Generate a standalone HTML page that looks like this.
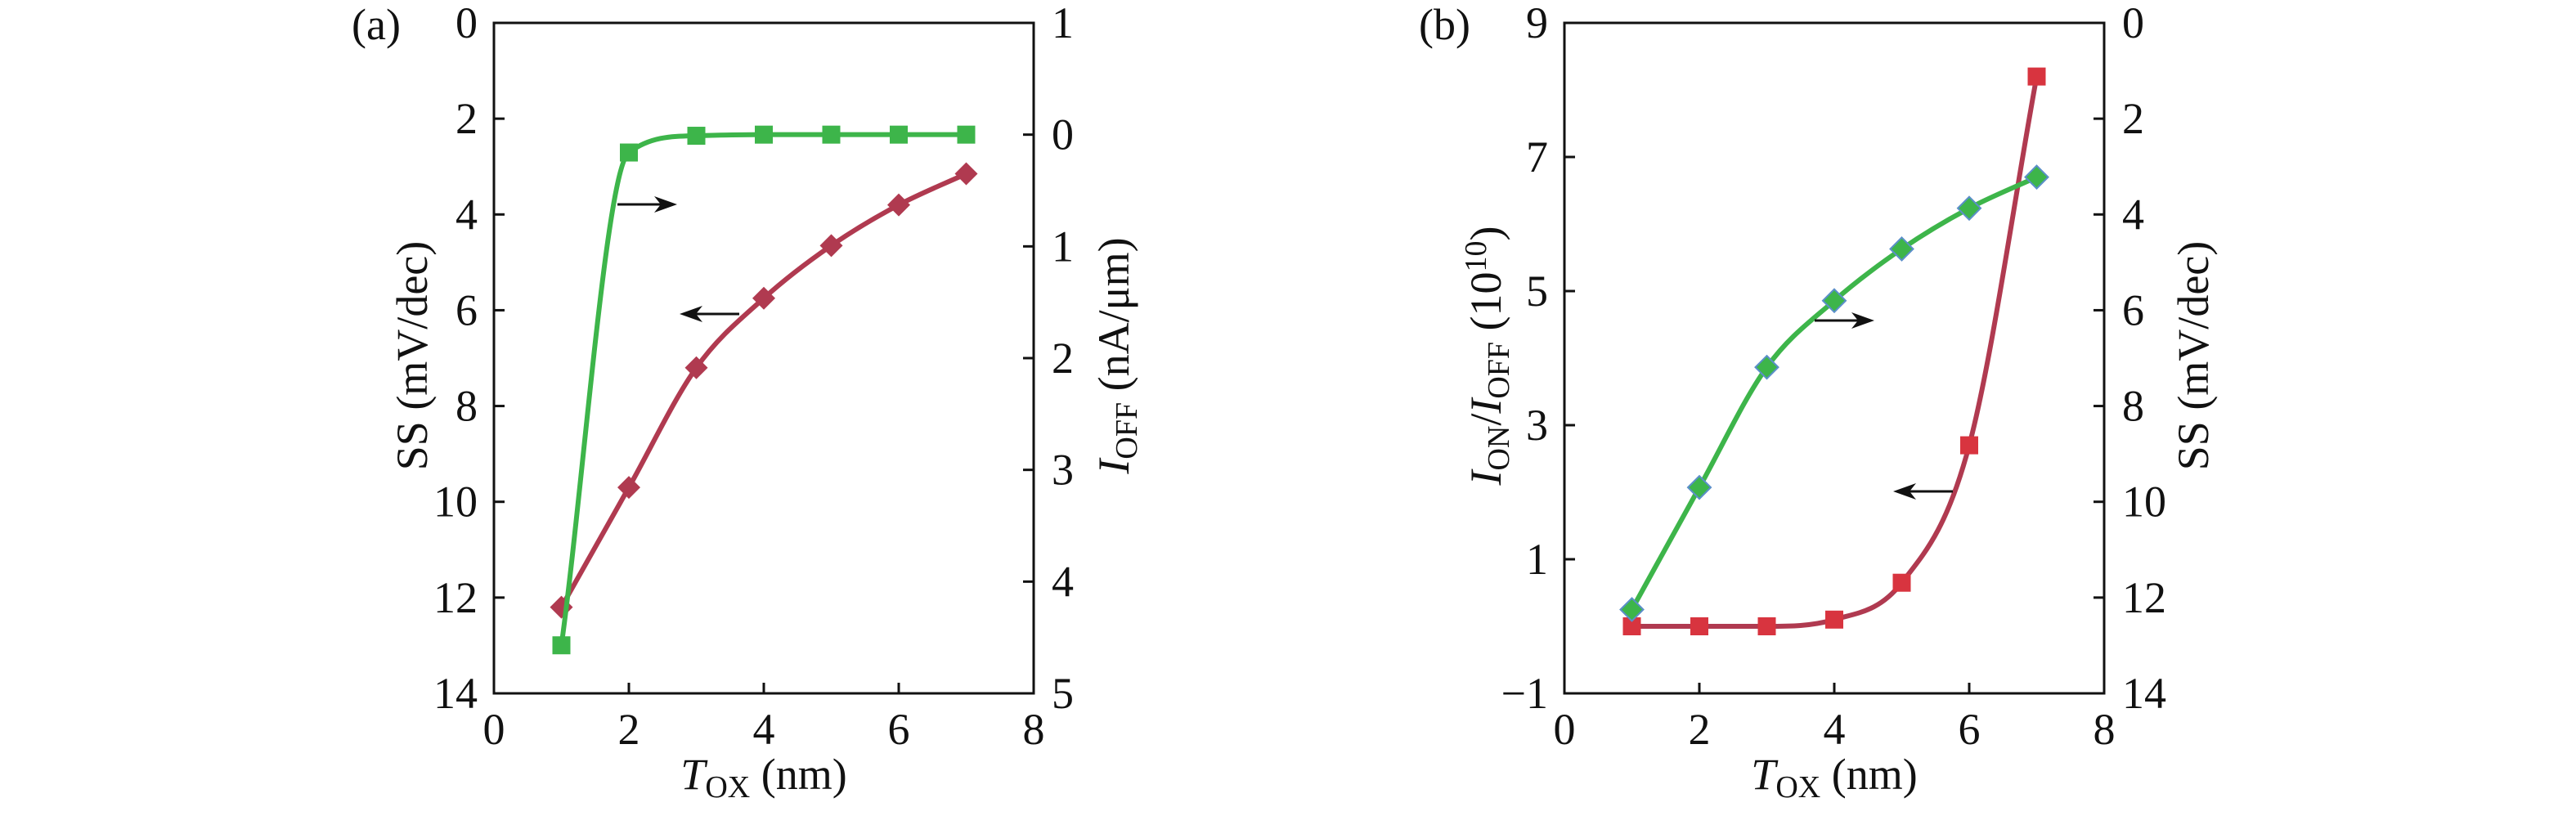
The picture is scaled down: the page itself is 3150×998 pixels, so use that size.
<!DOCTYPE html>
<html><head><meta charset="utf-8"><style>
html,body{margin:0;padding:0;background:#fff;}
svg{display:block;font-family:"Liberation Serif",serif;}
</style></head><body>
<svg id="fig" width="3150" height="998" viewBox="0 0 3150 998" xmlns="http://www.w3.org/2000/svg"></svg>
<script>
// ---- data ----
const tox = [1,2,3,4,5,6,7];
const aSS = [12.2,9.7,7.2,5.75,4.65,3.8,3.15];
const aIoff = [4.57,0.16,0.01,0,0,0,0];
const bRatio = [0.0,0.0,0.0,0.1,0.65,2.7,8.2];
const bSS = [12.25,9.7,7.19,5.8,4.72,3.87,3.22];
const xTicks = [0,2,4,6,8];
const aLeftTicks = [0,2,4,6,8,10,12,14];
const aRightTicks = [-1,0,1,2,3,4,5];
const aRightLabels = ["1","0","1","2","3","4","5"];
const bLeftTicks = [9,7,5,3,1,-1];
const bLeftLabels = ["9","7","5","3","1","\u22121"];
const bRightTicks = [0,2,4,6,8,10,12,14];

const NS="http://www.w3.org/2000/svg";
const svg=document.getElementById('fig');
function mk(tag,attrs,parent){const e=document.createElementNS(NS,tag);for(const k in attrs)e.setAttribute(k,attrs[k]);(parent||svg).appendChild(e);return e;}
const GREEN="#3db54a", RED="#b03a50", RED2="#d8343f";
const TOP=28, BOT=848;

function monotone(pts){
  const n=pts.length,d=[],m=[];
  for(let i=0;i<n-1;i++)d.push((pts[i+1][1]-pts[i][1])/(pts[i+1][0]-pts[i][0]));
  m[0]=d[0];m[n-1]=d[n-2];
  for(let i=1;i<n-1;i++){m[i]=(d[i-1]*d[i]<=0)?0:(d[i-1]+d[i])/2;}
  for(let i=0;i<n-1;i++){
    if(d[i]===0){m[i]=0;m[i+1]=0;continue;}
    const a=m[i]/d[i],b=m[i+1]/d[i],s=a*a+b*b;
    if(s>9){const t=3/Math.sqrt(s);m[i]=t*a*d[i];m[i+1]=t*b*d[i];}
  }
  let p=`M${pts[0][0]},${pts[0][1]}`;
  for(let i=0;i<n-1;i++){
    const h=(pts[i+1][0]-pts[i][0])/3;
    p+=` C${pts[i][0]+h},${pts[i][1]+m[i]*h} ${pts[i+1][0]-h},${pts[i+1][1]-m[i+1]*h} ${pts[i+1][0]},${pts[i+1][1]}`;
  }
  return p;
}

function panel(cfg){
  const g=mk('g',{});
  
  
  const L=cfg.left,R=cfg.right;
  const xs=v=>L+(v-0)/8*(R-L);
  const yl=v=>TOP+(v-cfg.lmin)/(cfg.lmax-cfg.lmin)*(BOT-TOP);
  const yr=v=>TOP+(v-cfg.rmin)/(cfg.rmax-cfg.rmin)*(BOT-TOP);
  const frame=mk('rect',{x:L,y:TOP,width:R-L,height:BOT-TOP,fill:'none',stroke:'#111','stroke-width':3},g);
  
  
  xTicks.forEach(v=>{
    const x=xs(v);
    if(v>0&&v<8){const t=mk('line',{x1:x,y1:BOT,x2:x,y2:BOT-13,stroke:'#111','stroke-width':3},g);
      }
    const tx=mk('text',{x:x,y:910,'font-size':54,'text-anchor':'middle',fill:'#111'},g);
    tx.textContent=v;
    
    
  });
  cfg.lt.forEach((v,i)=>{
    const y=yl(v);
    if(y>TOP+2&&y<BOT-2){const t=mk('line',{x1:L,y1:y,x2:L+13,y2:y,stroke:'#111','stroke-width':3},g);
      }
    const tx=mk('text',{x:L-20,y:y+18,'font-size':54,'text-anchor':'end',fill:'#111'},g);
    tx.textContent=cfg.ll[i];
    
    
  });
  cfg.rt.forEach((v,i)=>{
    const y=yr(v);
    if(y>TOP+2&&y<BOT-2){const t=mk('line',{x1:R,y1:y,x2:R-13,y2:y,stroke:'#111','stroke-width':3},g);
      }
    const tx=mk('text',{x:R+22,y:y+18,'font-size':54,'text-anchor':'start',fill:'#111'},g);
    tx.textContent=cfg.rl[i];
    
    
  });
  const xt=mk('text',{x:(L+R)/2,y:965,'font-size':54,'text-anchor':'middle',fill:'#111'},g);
  xt.innerHTML='<tspan font-style="italic">T</tspan><tspan font-size="38" dy="10">OX</tspan><tspan dy="-10"> (nm)</tspan>';
  
  
  const lt=mk('text',{transform:`translate(${cfg.ltx},435) rotate(-90)`,'font-size':54,'text-anchor':'middle',fill:'#111'},g);
  lt.innerHTML=cfg.lTitle;
  
  
  const rt=mk('text',{transform:`translate(${cfg.rtx},435) rotate(-90)`,'font-size':54,'text-anchor':'middle',fill:'#111'},g);
  rt.innerHTML=cfg.rTitle;
  
  
  const lab=mk('text',{x:cfg.labx,y:48,'font-size':54,fill:'#111'},g);
  lab.textContent=cfg.label;
  
  
  cfg.series.forEach(s=>{
    const pts=tox.map((t,i)=>[xs(t),(s.axis==='l'?yl:yr)(s.vals[i])]);
    const p=mk('path',{d:monotone(pts),fill:'none',stroke:s.line,'stroke-width':6,'stroke-linejoin':'round'},g);
    
    
    pts.forEach(pt=>{
      let m;
      if(s.marker==='sq'){m=mk('rect',{x:pt[0]-11,y:pt[1]-11,width:22,height:22,fill:s.fill},g);}
      else{const r=14;m=mk('polygon',{points:`${pt[0]},${pt[1]-r} ${pt[0]+r},${pt[1]} ${pt[0]},${pt[1]+r} ${pt[0]-r},${pt[1]}`,fill:s.fill,stroke:s.stroke||'none','stroke-width':2},g);}
      
      
    });
  });
  cfg.arrows.forEach(a=>{
    const ag=mk('g',{},g);
    
    
    const dir=a.dir;
    const tip=dir>0?a.x2:a.x1, tail=dir>0?a.x1:a.x2;
    mk('line',{x1:tail,y1:a.y,x2:tip-dir*20,y2:a.y,stroke:'#111','stroke-width':3},ag);
    mk('polygon',{points:`${tip},${a.y} ${tip-dir*28},${a.y-10} ${tip-dir*20},${a.y} ${tip-dir*28},${a.y+10}`,fill:'#111'},ag);
  });
}

panel({name:'panel-a',left:604,right:1264,lmin:0,lmax:14,rmin:-1,rmax:5,
  lt:aLeftTicks,ll:aLeftTicks.map(String),rt:aRightTicks,rl:aRightLabels,
  ltx:522,rtx:1380,labx:430,label:'(a)',
  lTitle:'SS (mV/dec)',
  rTitle:'<tspan font-style="italic">I</tspan><tspan font-size="38" dy="10">OFF</tspan><tspan dy="-10"> (nA/μm)</tspan>',
  series:[{name:'ss',axis:'l',vals:aSS,line:RED,fill:RED,marker:'dia'},
          {name:'ioff',axis:'r',vals:aIoff,line:GREEN,fill:GREEN,marker:'sq'}],
  arrows:[{x1:755,x2:828,y:250,dir:1},{x1:831,x2:904,y:384,dir:-1}]});

panel({name:'panel-b',left:1913,right:2573,lmin:9,lmax:-1,rmin:0,rmax:14,
  lt:bLeftTicks,ll:bLeftLabels,rt:bRightTicks,rl:bRightTicks.map(String),
  ltx:1835,rtx:2700,labx:1735,label:'(b)',
  lTitle:'<tspan font-style="italic">I</tspan><tspan font-size="38" dy="10">ON</tspan><tspan dy="-10">/</tspan><tspan font-style="italic">I</tspan><tspan font-size="38" dy="10">OFF</tspan><tspan dy="-10"> (10</tspan><tspan font-size="38" dy="-18">10</tspan><tspan dy="18">)</tspan>',
  rTitle:'SS (mV/dec)',
  series:[{name:'on-off-ratio',axis:'l',vals:bRatio,line:RED,fill:RED2,marker:'sq'},
          {name:'ss',axis:'r',vals:bSS,line:GREEN,fill:GREEN,stroke:'#5b8fc9',marker:'dia'}],
  arrows:[{x1:2219,x2:2292,y:392,dir:1},{x1:2315,x2:2388,y:601,dir:-1}]});
</script>
</body></html>
